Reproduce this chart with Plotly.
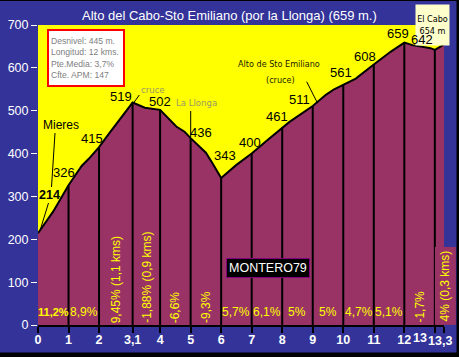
import plotly.graph_objects as go

# ---------------- data ----------------
km_marks = [0, 1, 2, 3.1, 4, 5, 6, 7, 8, 9, 10, 11, 12, 13, 13.3]
alt_marks = [214, 326, 415, 519, 502, 436, 343, 400, 461, 511, 561, 608, 659, 642, 654]

profile_km = [0, 0.5, 1, 1.43, 1.68, 2, 2.35, 3.1, 3.5, 4, 4.53, 4.8, 5, 5.5, 5.72, 6,
              6.49, 7, 7.53, 8, 8.24, 9, 9.43, 9.7, 10, 10.41, 11, 11.56, 12, 12.27,
              12.86, 13, 13.3]
profile_alt = [214, 265, 326, 371, 389, 415, 449, 519, 507, 502, 463, 451, 436, 402, 377, 343,
               373, 400, 432, 461, 474, 511, 537, 550, 561, 575, 608, 638, 659, 653,
               646, 642, 654]

x_tick_vals = [0, 1, 2, 3.1, 4, 5, 6, 7, 8, 9, 10, 11, 12, 13, 13.3]
x_tick_text = ["0", "1", "2", "3,1", "4", "5", "6", "7", "8", "9", "10", "11", "12", "", ""]
y_tick_vals = [0, 100, 200, 300, 400, 500, 600, 700]

grade_labels = ["11,2%", "8,9%", "9,45% (1,1 kms)", "-1,88% (0,9 kms)", "-6,6%", "-9,3%",
                "5,7%", "6,1%", "5%", "5%", "4,7%", "5,1%", "-1,7%", "4% (0,3 kms)"]
grade_vertical = [False, False, True, True, True, True,
                  False, False, False, False, False, False, True, True]

info_lines = ["Desnivel: 445 m.", "Longitud: 12 kms.", "Pte.Media: 3,7%", "Cfte. APM: 147"]
title_text = "Alto del Cabo-Sto Emiliano (por la Llonga) (659 m.)"

# ---------------- style ----------------
BLUE = "#333399"
YELLOW = "#FFFF00"
MAROON = "#993366"
FONT = "Liberation Sans, Arial, sans-serif"
NARROW = "Liberation Sans Narrow, Arial Narrow, DejaVu Sans Condensed, Liberation Sans, sans-serif"

W, H = 459, 357
L, R, T, B = 38, 444, 25, 325


def px(x):
    return (x - L) / (R - L)


def py(y):
    return (B - y) / (B - T)


# offsets of elevation labels (pixels: right, up)
label_offsets = [(11, 38), (-5, 13), (-7, 9), (-12, 6), (0, 8), (10, 6), (4, 23), (-2, 11),
                 (-5, 11), (-13, 7), (-2, 12), (-9, 8), (-6, 9), (-13, 10)]

fig = go.Figure()

# profile
fig.add_trace(go.Scatter(x=profile_km, y=profile_alt, mode="lines", fill="tozeroy",
                         fillcolor=MAROON, line=dict(color="black", width=2),
                         hoverinfo="skip", showlegend=False))

# vertical drop lines at each marked kilometre
dx, dy = [], []
for k, a in zip(km_marks[1:-1], alt_marks[1:-1]):
    dx += [k, k, None]
    dy += [0, a, None]
fig.add_trace(go.Scatter(x=dx, y=dy, mode="lines", line=dict(color="black", width=2),
                         hoverinfo="skip", showlegend=False))

ann = []

# title
ann.append(dict(text=title_text, xref="paper", yref="paper", x=px(229), y=py(15.5),
                showarrow=False, font=dict(family=FONT, size=13, color="white"),
                xanchor="center", yanchor="middle"))

# El Cabo box (drawn before labels so 642 overlaps it)
ann.append(dict(text=f"El Cabo<br>{alt_marks[-1]} m", xref="paper", yref="paper",
                x=px(432.5), y=py(24.7), showarrow=False, bgcolor="#FFFFCC",
                width=32, height=39, borderpad=0.5,
                font=dict(family=NARROW, size=9, color="black"),
                xanchor="center", yanchor="middle"))

# info box
ann.append(dict(text="<br>".join(info_lines), xref="paper", yref="paper",
                x=px(86.3), y=py(57.8), showarrow=False, align="left",
                bgcolor="white", bordercolor="#FF0000", borderwidth=2, borderpad=2,
                width=70, height=50,
                font=dict(family=FONT, size=8.6, color="#808080"),
                xanchor="center", yanchor="middle"))

# elevation labels
for i, (k, a) in enumerate(zip(km_marks[:-1], alt_marks[:-1])):
    ox, oy = label_offsets[i]
    ann.append(dict(text=f"<b>{a}</b>" if i == 0 else str(a), x=k, y=a, xref="x", yref="y",
                    showarrow=False, xshift=ox, yshift=oy,
                    font=dict(family=FONT, size=12.5 if i == 0 else 13, color="black"),
                    xanchor="center", yanchor="middle"))

# place names
ann.append(dict(text="Mieres", xref="paper", yref="paper", x=px(60.5), y=py(125),
                showarrow=False, font=dict(family=FONT, size=12, color="black"),
                xanchor="center", yanchor="middle"))
ann.append(dict(text="cruce", xref="paper", yref="paper", x=px(153), y=py(89.3),
                showarrow=False, font=dict(family=NARROW, size=9.5, color="#999966"),
                xanchor="center", yanchor="middle"))
ann.append(dict(text="La Llonga", xref="paper", yref="paper", x=px(196), y=py(102.7),
                showarrow=False, font=dict(family=NARROW, size=9.5, color="#999966"),
                xanchor="center", yanchor="middle"))
ann.append(dict(text="Alto de Sto Emiliano", xref="paper", yref="paper", x=px(278.7), y=py(64),
                showarrow=False, font=dict(family=NARROW, size=9, color="#1a1a00"),
                xanchor="center", yanchor="middle"))
ann.append(dict(text="(cruce)", xref="paper", yref="paper", x=px(280), y=py(80),
                showarrow=False, font=dict(family=NARROW, size=9, color="#1a1a00"),
                xanchor="center", yanchor="middle"))

# grade labels at segment midpoints
for i, lab in enumerate(grade_labels):
    x0, x1 = km_marks[i], km_marks[i + 1]
    mid = (x0 + x1) / 2
    if grade_vertical[i]:
        last = i == len(grade_labels) - 1
        ann.append(dict(text=lab, x=mid, y=0, xref="x", yref="y", showarrow=False,
                        textangle=-90, xanchor="center", yanchor="bottom",
                        xshift=5.5 if last else 0,
                        bgcolor=MAROON if last else None, borderpad=3 if last else 1,
                        font=dict(family=FONT, size=12, color=YELLOW)))
    else:
        ann.append(dict(text=f"<b>{lab}</b>" if i == 0 else lab, x=mid, y=0, xref="x", yref="y",
                        showarrow=False, xanchor="center", yanchor="middle", yshift=13,
                        font=dict(family=FONT, size=11 if i == 0 else 12, color=YELLOW)))

# watermark
ann.append(dict(text="MONTERO79", xref="paper", yref="paper", x=px(267.5), y=py(267.5),
                showarrow=False, bgcolor="black", bordercolor="#800080", borderwidth=1,
                borderpad=2, font=dict(family=FONT, size=12.5, color="white"),
                xanchor="center", yanchor="middle"))

# last two x labels (offset in the original)
ann.append(dict(text="<b>13</b>", xref="paper", yref="paper", x=px(420), y=py(337.5),
                showarrow=False, font=dict(family=FONT, size=12.5, color="white"),
                xanchor="center", yanchor="middle"))
ann.append(dict(text="<b>13,3</b>", xref="paper", yref="paper", x=px(439.7), y=py(340.5),
                showarrow=False, font=dict(family=FONT, size=12.5, color="white"),
                xanchor="center", yanchor="middle"))

shapes = []


def seg(x0, y0, x1, y1, color="black", width=1):
    shapes.append(dict(type="line", xref="paper", yref="paper", x0=px(x0), y0=py(y0),
                       x1=px(x1), y1=py(y1), line=dict(color=color, width=width)))


seg(55, 133, 51.5, 187)
seg(48.5, 203, 40.5, 229)
seg(133.3, 103.3, 139.3, 95)
seg(306.7, 81.7, 317.3, 102.7)
seg(190.7, 111, 190.7, 137)

# black frame strips (top, right, bottom)
for (ax0, ay0, ax1, ay1) in [(-5, -5, 465, 1), (456.5, -5, 465, 365), (-5, 352.5, 465, 365)]:
    shapes.append(dict(type="rect", xref="paper", yref="paper", x0=px(ax0), y0=py(ay0),
                       x1=px(ax1), y1=py(ay1), fillcolor="black", line=dict(width=0),
                       layer="below"))

fig.update_layout(
    width=W, height=H,
    margin=dict(l=L, r=W - R, t=T, b=H - B, pad=0, autoexpand=False),
    paper_bgcolor=BLUE, plot_bgcolor=YELLOW,
    showlegend=False,
    annotations=ann, shapes=shapes,
    xaxis=dict(range=[0, 13.3], tickmode="array", tickvals=x_tick_vals, ticktext=x_tick_text,
               ticks="outside", ticklen=6, tickwidth=2, tickcolor="black",
               ticklabelstandoff=-4,
               showline=True, linecolor="black", linewidth=2, automargin=False,
               showgrid=False, zeroline=False, fixedrange=True,
               tickfont=dict(family=FONT, size=12.5, color="white", weight="bold")),
    yaxis=dict(range=[0, 700], tickmode="array", tickvals=y_tick_vals,
               ticks="outside", ticklen=6, tickwidth=1, tickcolor="white",
               showline=False, showgrid=False, zeroline=False, fixedrange=True,
               automargin=False,
               tickfont=dict(family=FONT, size=12.5, color="white")),
)

fig.write_html("out.html", config={"displayModeBar": False})

# remove the browser's default page margin so the figure sits at the window's corner
with open("out.html", "r", encoding="utf-8") as f:
    html = f.read()
html = html.replace("<head>", "<head><style>html,body{margin:0;padding:0;overflow:hidden;}</style>", 1)
with open("out.html", "w", encoding="utf-8") as f:
    f.write(html)
